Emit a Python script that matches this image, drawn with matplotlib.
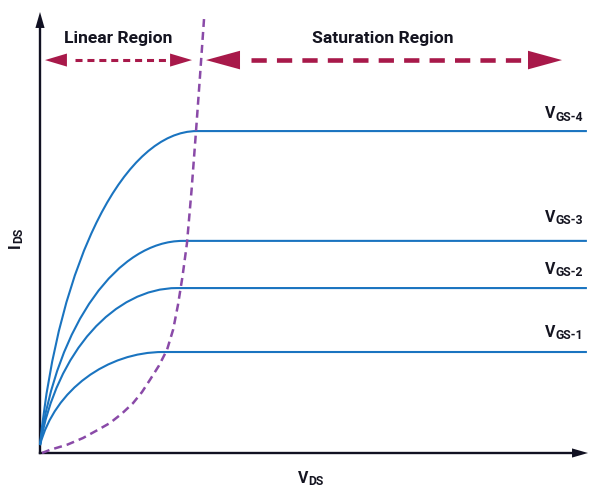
import matplotlib
matplotlib.use("Agg")
import matplotlib.pyplot as plt
from matplotlib.path import Path
from matplotlib.patches import PathPatch

# ---------------- data ----------------
curve_names = ["GS-1", "GS-2", "GS-3", "GS-4"]
sat_vds = [2.245, 2.50, 2.61, 2.865]      # VDS where each curve flattens
sat_ids = [2.29, 3.74, 4.81, 7.30]        # saturation current level
start_ids = 0.18                          # curves start just above the axis
end_vds = 9.98
label_baseline = [2.585, 4.014, 5.186, 7.535]

boundary_vds = [0.036, 0.18, 0.50, 0.785, 1.05, 1.277, 1.50, 1.697, 1.86, 2.007,
                2.17, 2.318, 2.43, 2.518, 2.60, 2.682, 2.765, 2.847, 2.92, 2.993]
boundary_ids = [0.0, 0.07, 0.19, 0.34, 0.52, 0.68, 0.90, 1.13, 1.38, 1.66,
                1.98, 2.34, 2.80, 3.36, 4.00, 4.76, 5.95, 7.30, 8.55, 9.84]

linear_arrow = (0.091, 2.774)
sat_arrow = (3.029, 9.526)
arrow_y = 8.91

# ---------------- style ----------------
BLUE = "#1a74c0"
RED = "#a8194a"
PURPLE = "#8a4aa8"
AXC = "#111122"
TXT = "#141420"
PX_X = 54.8   # pixels per VDS unit
PX_Y = 44.1   # pixels per IDS unit

plt.rcParams["font.family"] = ["Roboto", "DejaVu Sans"]

fig = plt.figure(figsize=(6, 4.98), dpi=100)
ax = fig.add_axes([40 / 600, 45 / 498, 548 / 600, 441 / 498])
ax.set_xlim(0, 10)
ax.set_ylim(0, 10)
ax.axis("off")


def head(tip, other, length_pt, half_w_pt, color):
    ax.annotate("", xy=tip, xytext=other,
                arrowprops=dict(arrowstyle=f"-|>,head_length={length_pt},head_width={half_w_pt}",
                                mutation_scale=1, lw=0, color=color,
                                shrinkA=0, shrinkB=0),
                annotation_clip=False)


# axes with arrows
ax.plot([0, 10 - 14 / PX_X], [0, 0], color=AXC, lw=1.7, solid_capstyle="projecting", clip_on=False)
ax.plot([0, 0], [0, 10 - 14 / PX_Y], color=AXC, lw=1.7, solid_capstyle="projecting", clip_on=False)
head((10, 0), (0, 0), 11.5, 3.3, AXC)
head((0, 10), (0, 0), 11.5, 3.3, AXC)

# characteristic curves
for xs, ys in zip(sat_vds, sat_ids):
    y0 = start_ids
    verts = [(0, y0),
             (0.12 * xs, y0 + 0.60 * (ys - y0)),
             (0.55 * xs, ys),
             (xs, ys),
             (end_vds, ys)]
    codes = [Path.MOVETO, Path.CURVE4, Path.CURVE4, Path.CURVE4, Path.LINETO]
    ax.add_patch(PathPatch(Path(verts, codes), fill=False, edgecolor=BLUE, lw=1.5,
                           clip_on=False, zorder=3))

# boundary between linear and saturation
ax.plot(boundary_vds, boundary_ids, color=PURPLE, lw=1.8,
        linestyle=(0, (3.2, 2.0)), clip_on=False, zorder=4)

# region arrows
l0, l1 = linear_arrow
ax.plot([l0 + 30 / PX_X, l1 - 24 / PX_X], [arrow_y, arrow_y], color=RED, lw=2.2,
        linestyle=(0, (2.3, 1.6)), clip_on=False)
head((l0, arrow_y), (l1, arrow_y), 15.8, 4.7, RED)
head((l1, arrow_y), (l0, arrow_y), 15.8, 4.7, RED)

s0, s1 = sat_arrow
ax.plot([s0 + 45 / PX_X, s1 - 34 / PX_X], [arrow_y, arrow_y], color=RED, lw=3.3,
        linestyle=(0, (3.33, 2.22)), clip_on=False)
head((s0, arrow_y), (s1, arrow_y), 24.5, 6.7, RED)
head((s1, arrow_y), (s0, arrow_y), 24.5, 6.7, RED)

ax.text(1.423, 9.29, "Linear Region", ha="center", va="baseline",
        fontsize=12.6, fontweight="bold", color=TXT)
ax.text(6.259, 9.29, "Saturation Region", ha="center", va="baseline",
        fontsize=12.6, fontweight="bold", color=TXT)

# curve labels
for name, yb in zip(curve_names, label_baseline):
    sub = ax.text(9.909, yb, name, ha="right", va="baseline", fontsize=8.8,
                  fontweight="bold", color=TXT)
    ax.annotate("V", xy=(0, 0), xycoords=sub, xytext=(-0.2, 1.7),
                textcoords="offset points", ha="right", va="bottom",
                fontsize=11.4, fontweight="bold", color=TXT)

# axis labels
vtxt = ax.text(4.7, -0.673, "V", ha="left", va="baseline", fontsize=11.4,
               fontweight="bold", color=TXT)
ax.annotate("DS", xy=(1, 0), xycoords=vtxt, xytext=(0.2, -1.7),
            textcoords="offset points", ha="left", va="bottom",
            fontsize=8.8, fontweight="bold", color=TXT)

itxt = ax.text(-0.365, 4.70, "I", ha="center", va="baseline", rotation=90,
               rotation_mode="anchor", fontsize=11.4, fontweight="bold", color=TXT)
ax.annotate("DS", xy=(1, 1), xycoords=itxt, xytext=(1.7, 0.2),
            textcoords="offset points", ha="right", va="bottom", rotation=90,
            fontsize=8.8, fontweight="bold", color=TXT)

fig.savefig("out.png", dpi=100)
